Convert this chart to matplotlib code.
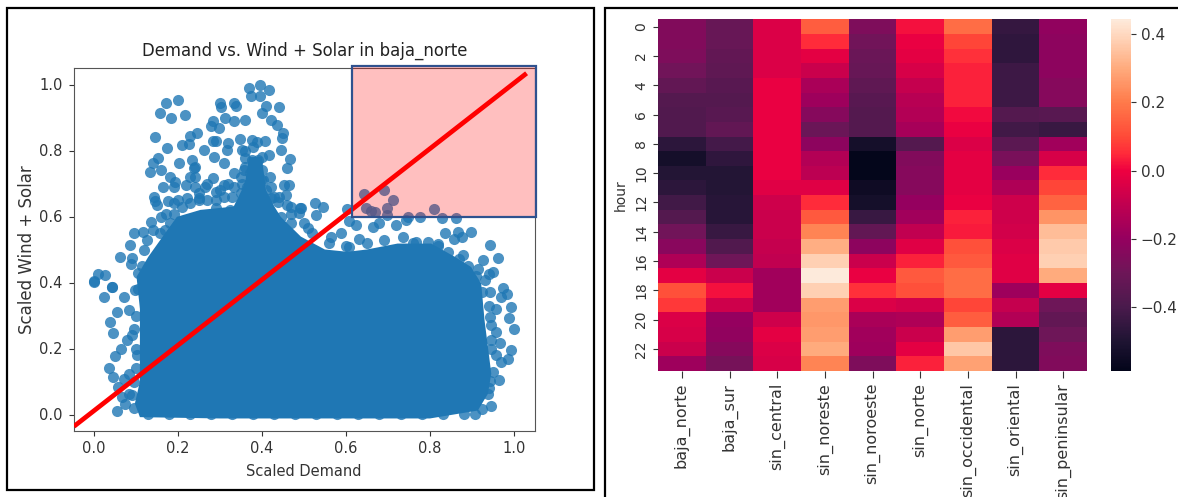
import matplotlib
matplotlib.use("Agg")
import matplotlib.pyplot as plt
from matplotlib.colors import LinearSegmentedColormap
from matplotlib.patches import Rectangle
import numpy as np
import seaborn as sns

W, H = 1178, 497

regions = ["baja_norte", "baja_sur", "sin_central", "sin_noreste", "sin_noroeste",
           "sin_norte", "sin_occidental", "sin_oriental", "sin_peninsular"]
baja_norte = [-.25,-.25,-.26,-.29,-.33,-.37,-.38,-.38,-.47,-.53,-.49,-.47,-.42,-.37,-.29,-.23,-.14,-.02,.11,.07,-.04,-.05,-.08,-.18]
baja_sur = [-.32,-.32,-.33,-.34,-.36,-.37,-.36,-.33,-.41,-.46,-.49,-.49,-.48,-.48,-.44,-.38,-.3,-.08,.02,-.07,-.2,-.21,-.24,-.28]
sin_central = [-.04,-.04,-.04,-.04,-.01,-.01,-.01,-.01,-.01,-.01,-.01,-.03,-.07,-.08,-.08,-.09,-.1,-.17,-.17,-.17,-.07,-.02,-.04,-.05]
sin_noreste = [.14,.05,-.02,-.08,-.15,-.18,-.24,-.31,-.22,-.13,-.11,-.03,.05,.13,.22,.31,.38,.44,.38,.27,.26,.27,.3,.22]
sin_noroeste = [-.26,-.29,-.31,-.32,-.34,-.36,-.37,-.37,-.53,-.58,-.58,-.55,-.53,-.44,-.33,-.22,-.08,-.01,.06,-.04,-.15,-.17,-.18,-.26]
sin_norte = [.02,-.01,-.02,-.05,-.09,-.12,-.13,-.16,-.37,-.25,-.24,-.24,-.2,-.17,-.1,-.03,.04,.13,.11,-.06,-.14,-.08,-.02,.04]
sin_occidental = [.17,.09,.06,.04,.04,.04,.01,-.01,-.04,-.02,-.02,-.02,-.01,.04,.03,.11,.13,.17,.17,.09,.14,.27,.36,.28]
sin_oriental = [-.45,-.46,-.46,-.43,-.43,-.43,-.37,-.42,-.35,-.27,-.19,-.14,-.07,-.07,-.06,-.04,-.03,-.03,-.18,-.09,-.13,-.47,-.47,-.47]
sin_peninsular = [-.21,-.22,-.22,-.22,-.24,-.24,-.36,-.44,-.17,-.05,.05,.09,.15,.25,.34,.37,.38,.3,-.02,-.3,-.33,-.3,-.26,-.25]

# Individually legible points of the scatter: upper-left cloud
demand_upper = [.369,.395,.418,.375,.395,.411,.441,.401,.421,.435,.451,.447,.445,.467,.461,.453,.465,.421,.403,.418,
                .408,.389,.377,.349,.320,.317,.353,.361,.377,.381,.357,.373,.333,.309,.286,.262,.247,.228,.226,.210,
                .174,.145,.157,.172,.201,.218,.185,.300,.304,.333,.339,.313,.333,.359,.284,.279,.298,.284,.290,.153,
                .140,.133,.159,.204,.182,.194,.192,.166,.220,.234,.238,.242,.266,.283,.309,.333,.353,.389,.290,.250,
                .222,.200,.176,.144,.146,.150,.421,.438,.458,.461,.397,.365,.325,.290,.190,.173,.136,.118,.095,.128,
                .087,.063,.091,.089,.011,.027,.001,.043,.158,.182,.469,.493,.445,.413]
wind_solar_upper = [.989,1.0,.984,.964,.964,.935,.933,.913,.893,.878,.854,.837,.802,.773,.746,.695,.695,.690,.711,.786,
                    .829,.827,.832,.834,.824,.802,.802,.776,.771,.756,.741,.731,.731,.761,.781,.802,.852,.845,.820,.817,
                    .807,.842,.915,.943,.953,.908,.898,.945,.933,.945,.935,.898,.888,.893,.888,.873,.867,.829,.829,.776,
                    .761,.736,.741,.761,.721,.706,.690,.690,.695,.771,.746,.721,.690,.716,.695,.690,.700,.670,.675,.655,
                    .655,.650,.648,.660,.648,.635,.655,.645,.665,.635,.711,.690,.620,.625,.609,.609,.584,.554,.551,.528,
                    .513,.478,.473,.456,.427,.422,.405,.387,.549,.579,.609,.625,.599,.620]
# Right-hand cloud edge
demand_right = [.527,.546,.530,.602,.608,.625,.588,.564,.510,.491,.488,.642,.691,.711,.699,.648,.660,.670,.698,.747,
                .777,.809,.829,.862,.835,.867,.876,.857,.898,.944,.961,.926,.950,.940,.974,.984,.968,.992,.988,1.0,
                .957,.958,.966,.992,.986,.968,.964,.946,.925,.908,.608,.632,.664,.680,.719,.743,.735,.767,.795,.819,
                .843,.878,.914,.942,.930,.942,.946,.958,.942,.938]
wind_solar_right = [.640,.630,.604,.622,.587,.574,.549,.538,.564,.625,.610,.668,.680,.650,.625,.625,.617,.614,.604,.599,
                    .599,.622,.594,.594,.551,.554,.539,.533,.554,.513,.473,.468,.432,.427,.382,.366,.356,.326,.291,.260,
                    .321,.250,.217,.194,.167,.159,.105,.025,.017,.002,.508,.533,.569,.579,.574,.589,.539,.523,.523,.518,
                    .493,.483,.442,.371,.407,.296,.225,.179,.103,.063]
# Left-hand cloud edge
demand_left = [.0,.043,.024,.073,.098,.055,.083,.040,.047,.090,.079,.065,.051,.104,.036,.047,.085,.071,.059,.067,.055,.083,.075]
wind_solar_left = [.402,.387,.356,.356,.377,.311,.316,.280,.248,.240,.227,.197,.177,.179,.142,.115,.124,.108,.083,.053,.010,.063,.033]
# Crowded points along the top and sides of the mass
demand_edge = [.21,.23,.25,.27,.29,.31,.33,.35,.37,.39,.41,.43,.24,.23,.24,.25,.27,.30,.32,.35,.36,.38,.39,.36,.38,.40,.40,.42,.44,
               .47,.50,.52,.56,.47,.14,.12,.16,.17,.19,.105,.115,.105,.10,.095,.10,.10,.095,.09,.095,.60,.65,.69,.76,.82,.87,.89,.91,.925,.94,.945,.945,.95,.94,
               .13,.18,.23,.28,.33,.38,.43,.48,.53,.58,.63,.68,.73,.78,.83,.88]
wind_solar_edge = [.63,.64,.65,.65,.65,.66,.66,.67,.70,.69,.68,.66,.69,.72,.75,.67,.70,.68,.70,.72,.75,.73,.77,.80,.81,.78,.74,.72,.66,
                   .58,.58,.55,.52,.63,.56,.50,.60,.56,.64,.43,.45,.38,.30,.26,.20,.14,.10,.06,.02,.51,.52,.53,.52,.51,.47,.45,.42,.37,.33,.27,.20,.13,.08,
                   .003,.003,.003,.003,.003,.003,.003,.003,.003,.003,.003,.003,.003,.003,.003,.003]

# Outline of the region where the points merge into a solid mass
mass_demand = [.11,.098,.11,.11,.11,.102,.130,.158,.198,.254,.333,.36,.37,.40,.41,.43,.445,.493,.55,.604,.65,.723,.803,.859,.898,.922,.930,.946,.938,.914,.80,.50,.30]
mass_wind_solar = [-.008,.033,.10,.20,.32,.417,.478,.528,.599,.620,.630,.70,.78,.78,.68,.63,.599,.539,.50,.493,.50,.518,.518,.478,.447,.397,.285,.124,.063,.012,-.012,-.012,-.012]

line_ends = [-0.047, 1.03]
line_vals = [-0.036, 1.034]
box_x = [0.615, 1.053]
box_y = [0.6, 1.057]

# Colour scale as it appears in the reference
scale_vals = [-.587,-.5,-.4,-.3,-.2,-.1,0,.05,.1,.2,.3,.4,.443]
scale_cols = ["#03051a","#1f1433","#4a1a4c","#6e1658","#95005f","#c00050","#ee0040","#ff2a3a","#ff4a38",
              "#ff7a4a","#ffaa7c","#ffd8bf","#fdeadb"]

def ax_px(l, t, r, b):
    return fig.add_axes([l / W, 1 - b / H, (r - l) / W, (b - t) / H])

fig = plt.figure(figsize=(W / 100, H / 100), dpi=100, facecolor="white")

# panel frames
fig.add_artist(Rectangle((7 / W, 1 - 490 / H), 587 / W, 482 / H, transform=fig.transFigure,
                         fill=False, ec="black", lw=1.6))
fig.add_artist(Rectangle((605 / W, 1 - 510 / H), 590 / W, 502 / H, transform=fig.transFigure,
                         fill=False, ec="black", lw=1.6))

# Scatter
ax = ax_px(73.5, 68, 535, 431)
blue = "#1f77b4"
demand = demand_upper + demand_right + demand_left + demand_edge
wind_solar = wind_solar_upper + wind_solar_right + wind_solar_left + wind_solar_edge
ax.fill(mass_demand, mass_wind_solar, color=blue, lw=0, zorder=2)
ax.scatter(demand, wind_solar, s=64, color=blue, alpha=0.8, lw=0, zorder=3)
ax.plot(line_ends, line_vals, color="red", lw=3.4, zorder=4, solid_capstyle="butt")
ax.set_xlim(-0.048, 1.05)
ax.set_ylim(-0.05, 1.05)
ax.set_xticks([0, .2, .4, .6, .8, 1.0])
ax.set_yticks([0, .2, .4, .6, .8, 1.0])
ax.tick_params(labelsize=10.5, colors="#333333", length=3.5, width=0.8)
ax.tick_params(axis="y", pad=4.5)
ax.set_title("Demand vs. Wind + Solar in baja_norte", fontsize=11.9, color="#222222", pad=9)
ax.set_xlabel("Scaled Demand", fontsize=10.5, color="#333333", labelpad=6)
ax.set_ylabel("Scaled Wind + Solar", fontsize=12, color="#333333", labelpad=2)
for s in ax.spines.values():
    s.set_color("#555555")
ax.add_patch(Rectangle((box_x[0], box_y[0]), box_x[1] - box_x[0], box_y[1] - box_y[0],
                       fc=(1, 0, 0, 0.25), ec="#2f528f", lw=1.6, zorder=5, clip_on=False))

# Heatmap
hax = ax_px(658, 19.3, 1087, 371)
cax = ax_px(1111, 19.3, 1131, 371)
data = np.array([baja_norte, baja_sur, sin_central, sin_noreste, sin_noroeste, sin_norte,
                 sin_occidental, sin_oriental, sin_peninsular]).T
vmin, vmax = scale_vals[0], scale_vals[-1]
cmap = LinearSegmentedColormap.from_list(
    "ref", [((v - vmin) / (vmax - vmin), c) for v, c in zip(scale_vals, scale_cols)], N=256)
sns.heatmap(data, ax=hax, cbar_ax=cax, cmap=cmap, vmin=vmin, vmax=vmax,
            xticklabels=regions, yticklabels=2)
hax.set_ylabel("hour", fontsize=10, color="#333333", labelpad=5)
hax.tick_params(axis="x", labelsize=11.5, labelcolor="#333333", rotation=90, length=5, pad=3.5, color="#333333")
hax.tick_params(axis="y", labelsize=10, labelcolor="#333333", rotation=90, length=3.5, color="#333333")
for t in hax.get_yticklabels():
    t.set_va("center")
cax.set_yticks([-.4, -.2, 0, .2, .4])
cax.tick_params(labelsize=11, labelcolor="#333333", length=3.5, color="#333333")

fig.savefig("out.png", dpi=100)
